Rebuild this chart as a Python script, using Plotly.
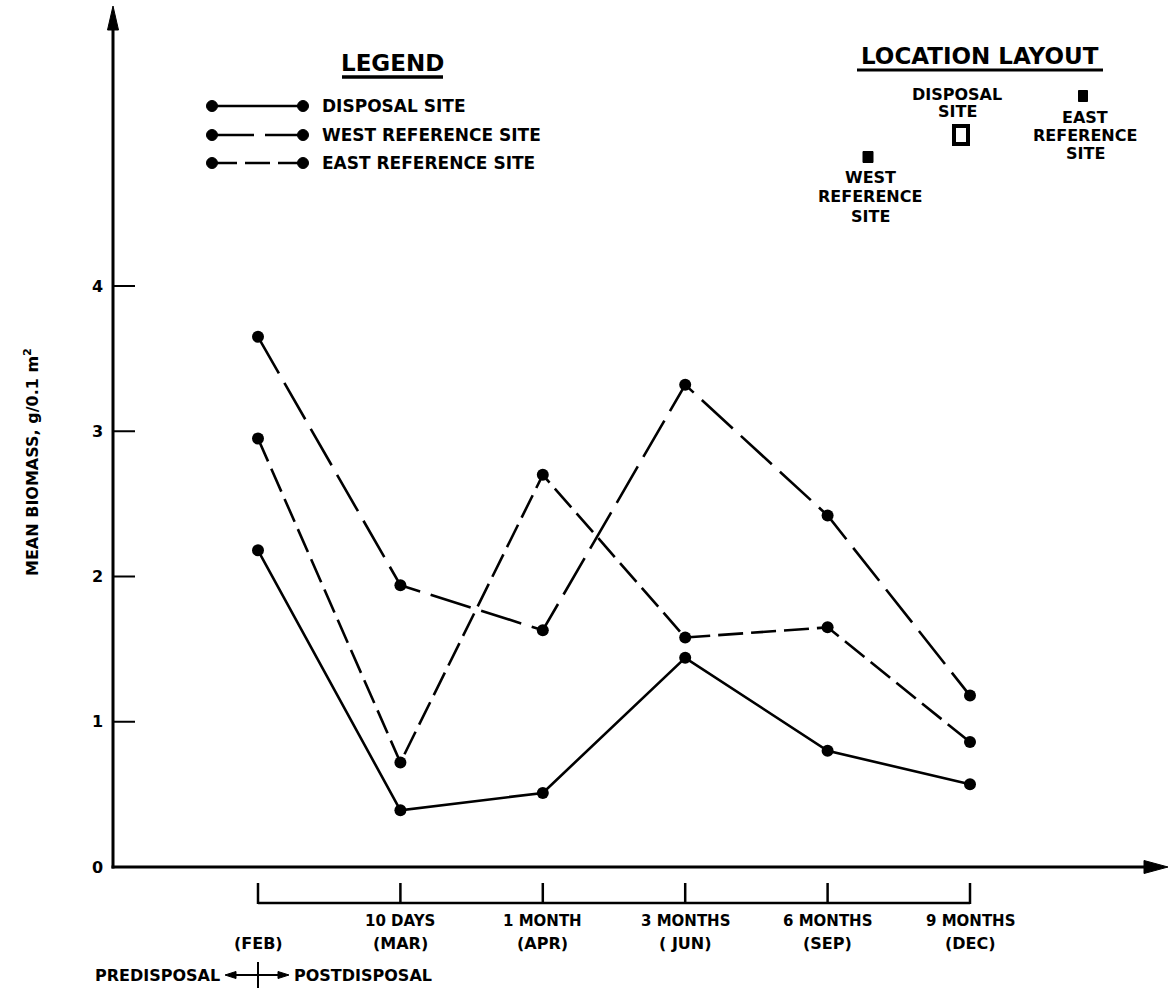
import plotly.graph_objects as go

# ---------------- data ----------------
categories = ["FEB", "MAR", "APR", "JUN", "SEP", "DEC"]
period_labels = ["", "10 DAYS", "1 MONTH", "3 MONTHS", "6 MONTHS", "9 MONTHS"]
month_labels = ["(FEB)", "(MAR)", "(APR)", "( JUN)", "(SEP)", "(DEC)"]

disposal_site = [2.18, 0.39, 0.51, 1.44, 0.80, 0.57]
west_reference_site = [3.65, 1.94, 1.63, 3.32, 2.42, 1.18]
east_reference_site = [2.95, 0.72, 2.70, 1.58, 1.65, 0.86]

series_names = ["DISPOSAL SITE", "WEST REFERENCE SITE", "EAST REFERENCE SITE"]
series_values = [disposal_site, west_reference_site, east_reference_site]
y_ticks = [0, 1, 2, 3, 4]
y_title = "MEAN BIOMASS, g/0.1 m<sup>2</sup>"

loc_title = "LOCATION LAYOUT"
loc_disposal = ["DISPOSAL", "SITE"]
loc_west = ["WEST", "REFERENCE", "SITE"]
loc_east = ["EAST", "REFERENCE", "SITE"]

# ---------------- layout geometry (pixels) ----------------
W, H = 1172, 988
X_CAT0, X_STEP = 258.0, 142.4      # pixel of first category, pixels per category
Y_ZERO, Y_UNIT = 867.0, 145.25     # pixel of value 0, pixels per unit
AX_X = 113.0                       # y-axis line pixel
AX_RIGHT = 1168.0
AX_TOP = 6.0

BLACK = "#000000"
FONT = "DejaVu Sans"
dashes = ["solid", "42px,11px", "25px,8px"]


def px(x):
    return x / W


def py(y):
    return 1 - y / H


x_idx = list(range(len(categories)))
xr = [(0 - X_CAT0) / X_STEP, (W - X_CAT0) / X_STEP]
yr = [(Y_ZERO - H) / Y_UNIT, Y_ZERO / Y_UNIT]

fig = go.Figure()

for name, vals, dsh in zip(series_names, series_values, dashes):
    fig.add_trace(go.Scatter(
        x=x_idx, y=vals, mode="lines+markers", name=name,
        line=dict(color=BLACK, width=2.6, dash=dsh),
        marker=dict(color=BLACK, size=12),
        showlegend=False, hoverinfo="skip",
    ))

shapes = []
annotations = []


def bold(size):
    return dict(family=FONT, size=size, color=BLACK, weight="bold")


def tri(points):
    (x1, y1), (x2, y2), (x3, y3) = points
    return dict(type="path", xref="paper", yref="paper",
                path=f"M {px(x1)},{py(y1)} L {px(x2)},{py(y2)} L {px(x3)},{py(y3)} Z",
                fillcolor=BLACK, line=dict(color=BLACK, width=1))


def hline(x0, x1, y, w):
    return dict(type="line", xref="paper", yref="paper", x0=px(x0), x1=px(x1),
                y0=py(y), y1=py(y), line=dict(color=BLACK, width=w))


# axes
shapes.append(dict(type="line", xref="paper", yref="paper",
                   x0=px(AX_X), x1=px(AX_X), y0=py(Y_ZERO + 1.5), y1=py(AX_TOP + 18),
                   line=dict(color=BLACK, width=3)))
shapes.append(tri([(AX_X, AX_TOP), (AX_X - 5.5, AX_TOP + 24), (AX_X + 5.5, AX_TOP + 24)]))
shapes.append(hline(AX_X - 1.5, AX_RIGHT - 18, Y_ZERO, 3))
shapes.append(tri([(AX_RIGHT, Y_ZERO), (AX_RIGHT - 24, Y_ZERO - 6.5), (AX_RIGHT - 24, Y_ZERO + 6.5)]))

# y ticks and labels
for v in y_ticks:
    if v > 0:
        shapes.append(dict(type="line", xref="paper", yref="y",
                           x0=px(AX_X), x1=px(AX_X + 22), y0=v, y1=v,
                           line=dict(color=BLACK, width=2)))
    annotations.append(dict(xref="paper", yref="y", x=px(97), y=v, text=str(v),
                            showarrow=False, xanchor="center", yanchor="middle",
                            font=bold(16)))

# y title
annotations.append(dict(xref="paper", yref="paper", x=px(31), y=py(462), text=y_title,
                        textangle=-90, showarrow=False, xanchor="center", yanchor="middle",
                        font=bold(16)))

# category bracket
BR_Y, BR_TOP = 903, 883
shapes.append(dict(type="line", xref="x", yref="paper",
                   x0=x_idx[0], x1=x_idx[-1], y0=py(BR_Y), y1=py(BR_Y),
                   line=dict(color=BLACK, width=2.5)))
for i in x_idx:
    shapes.append(dict(type="line", xref="x", yref="paper",
                       x0=i, x1=i, y0=py(BR_Y + 1), y1=py(BR_TOP),
                       line=dict(color=BLACK, width=2.5)))
    if period_labels[i]:
        annotations.append(dict(xref="x", yref="paper", x=i, y=py(921), text=period_labels[i],
                                showarrow=False, xanchor="center", yanchor="middle",
                                font=bold(15)))
    annotations.append(dict(xref="x", yref="paper", x=i, y=py(943), text=month_labels[i],
                            showarrow=False, xanchor="center", yanchor="middle",
                            font=bold(16)))

# predisposal / postdisposal marker
PP_Y = 975
shapes.append(dict(type="line", xref="x", yref="paper", x0=x_idx[0], x1=x_idx[0],
                   y0=py(962), y1=py(989), line=dict(color=BLACK, width=2)))
shapes.append(hline(X_CAT0 - 24, X_CAT0 + 24, PP_Y, 2))
shapes.append(tri([(X_CAT0 - 33, PP_Y), (X_CAT0 - 22, PP_Y - 3.5), (X_CAT0 - 22, PP_Y + 3.5)]))
shapes.append(tri([(X_CAT0 + 31, PP_Y), (X_CAT0 + 20, PP_Y - 3.5), (X_CAT0 + 20, PP_Y + 3.5)]))
annotations.append(dict(xref="paper", yref="paper", x=px(X_CAT0 - 36), y=py(PP_Y),
                        text="PREDISPOSAL", showarrow=False, xanchor="right",
                        yanchor="middle", font=bold(16)))
annotations.append(dict(xref="paper", yref="paper", x=px(X_CAT0 + 34), y=py(PP_Y),
                        text="POSTDISPOSAL", showarrow=False, xanchor="left",
                        yanchor="middle", font=bold(16)))

# legend
annotations.append(dict(xref="paper", yref="paper", x=px(392), y=py(63), text="LEGEND",
                        showarrow=False, xanchor="center", yanchor="middle", font=bold(23)))
shapes.append(hline(342, 443, 77, 3.5))
legend_rows = [106, 135, 163]
for name, dsh, ry in zip(series_names, dashes, legend_rows):
    shapes.append(dict(type="line", xref="paper", yref="paper", x0=px(212), x1=px(303),
                       y0=py(ry), y1=py(ry), line=dict(color=BLACK, width=2.6, dash=dsh)))
    for cx in (212, 303):
        shapes.append(dict(type="circle", xref="paper", yref="paper",
                           x0=px(cx - 5.5), x1=px(cx + 5.5), y0=py(ry + 5.5), y1=py(ry - 5.5),
                           fillcolor=BLACK, line=dict(color=BLACK, width=1)))
    annotations.append(dict(xref="paper", yref="paper", x=px(320), y=py(ry), text=name,
                            showarrow=False, xanchor="left", yanchor="middle", font=bold(17)))

# location layout
annotations.append(dict(xref="paper", yref="paper", x=px(980), y=py(56), text=loc_title,
                        showarrow=False, xanchor="center", yanchor="middle", font=bold(23)))
shapes.append(hline(857, 1103, 70, 3))


def stack(lines, cx, y_first, step):
    for k, t in enumerate(lines):
        annotations.append(dict(xref="paper", yref="paper", x=px(cx), y=py(y_first + k * step),
                                text=t, showarrow=False, xanchor="center", yanchor="middle",
                                font=bold(16)))


stack(loc_disposal, 957, 95, 17)
stack(loc_west, 870, 177, 19.5)
stack(loc_east, 1085, 117, 18)
# site symbols
shapes.append(dict(type="rect", xref="paper", yref="paper", x0=px(954), x1=px(968),
                   y0=py(144), y1=py(126), line=dict(color=BLACK, width=4)))
shapes.append(dict(type="rect", xref="paper", yref="paper", x0=px(863), x1=px(873),
                   y0=py(162.5), y1=py(151.5), fillcolor=BLACK, line=dict(color=BLACK, width=1)))
shapes.append(dict(type="rect", xref="paper", yref="paper", x0=px(1078.5), x1=px(1087.5),
                   y0=py(101.5), y1=py(90.5), fillcolor=BLACK, line=dict(color=BLACK, width=1)))

fig.update_layout(
    width=W, height=H,
    margin=dict(l=0, r=0, t=0, b=0, pad=0),
    paper_bgcolor="white", plot_bgcolor="white",
    xaxis=dict(range=xr, visible=False, fixedrange=True),
    yaxis=dict(range=yr, visible=False, fixedrange=True),
    shapes=shapes, annotations=annotations,
    font=dict(family=FONT, color=BLACK),
)

fig.write_html("out.html", config={"displayModeBar": False},
               post_script="document.body.style.margin='0';")
